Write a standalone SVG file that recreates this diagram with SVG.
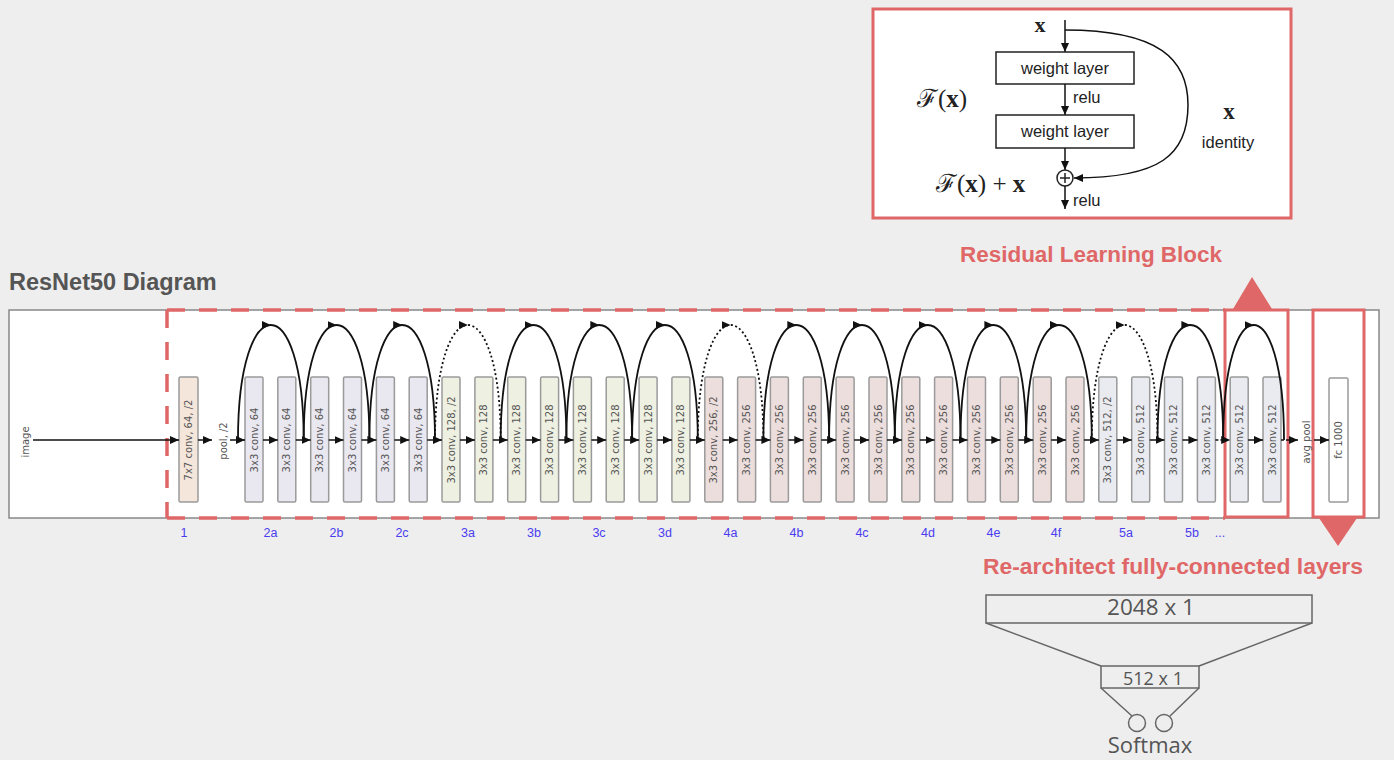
<svg xmlns="http://www.w3.org/2000/svg" width="1394" height="760" viewBox="0 0 1394 760">
<defs>
<marker id="ah" markerUnits="userSpaceOnUse" markerWidth="10" markerHeight="8" refX="9" refY="4" orient="auto"><path d="M0,0 L9,4 L0,8 z" fill="#111"/></marker>
<marker id="ah2" markerUnits="userSpaceOnUse" markerWidth="10" markerHeight="8" refX="9" refY="4" orient="auto"><path d="M0,0 L9,4 L0,8 z" fill="#111"/></marker>
<style>
.bx{stroke:#9a9a9a;stroke-width:1.5}
.c64{fill:#e9e7ef}.c128{fill:#eef0e1}.c256{fill:#ecdedc}.c512{fill:#eaebf0}
.lt{font-family:"DejaVu Sans",sans-serif;font-size:10px;fill:#555;text-anchor:middle;dominant-baseline:central}
.ar{stroke:#111;stroke-width:1.5;fill:none;marker-end:url(#ah)}
.dsh{stroke-dasharray:3 2}
.arc{stroke:#111;stroke-width:1.8;fill:none;marker-mid:url(#ah)}
.dot{stroke-dasharray:2 2.5}
.blk{font-family:"Liberation Sans",Arial,sans-serif;font-size:12.5px;fill:#4a3cf0;text-anchor:middle}
.red{fill:#e06767}
.rs{fill:none;stroke:#e06767;stroke-width:3}
.wl{font-family:"Liberation Sans",Arial,sans-serif;font-size:16.5px;fill:#222}
.mx{font-family:"Liberation Serif","DejaVu Serif",serif;fill:#222}
.fc{font-family:"Open Sans","Liberation Sans",sans-serif;fill:#555}
.bl{stroke:#111;stroke-width:1.5;fill:none}
</style>
</defs>
<rect width="1394" height="760" fill="#eeeeee"/>

<text x="9" y="290" font-family="Liberation Sans,Arial,sans-serif" font-weight="bold" font-size="23.5" fill="#555">ResNet50 Diagram</text>
<text x="960" y="262" font-family="Liberation Sans,Arial,sans-serif" font-weight="bold" font-size="22" class="red" textLength="262" lengthAdjust="spacingAndGlyphs">Residual Learning Block</text>
<text x="983" y="574" font-family="Liberation Sans,Arial,sans-serif" font-weight="bold" font-size="22" class="red" textLength="380" lengthAdjust="spacingAndGlyphs">Re-architect fully-connected layers</text>

<g id="main-frame">
<rect x="9" y="310" width="1370" height="208" fill="#fff" stroke="#888" stroke-width="1.5"/>
</g>

<g id="highlight">
<path d="M167,310 H1225 M167,518 H1225 M167,310 V518" fill="none" stroke="#e06767" stroke-width="3.5" stroke-dasharray="18 14"/>
<rect x="1225" y="310" width="63" height="207" class="rs"/>
<rect x="1313" y="310" width="51" height="207" class="rs"/>
<path d="M1233,309 L1252,277 L1272,309 z" class="red"/>
<path d="M1319,518 L1357,518 L1338,546 z" class="red"/>
</g>

<g id="labels-inline">
<text class="lt" transform="translate(25,442) rotate(-90)">image</text>
<text class="lt" transform="translate(223,441) rotate(-90)">pool, /2</text>
<text class="lt" transform="translate(1306,442) rotate(-90)">avg pool</text>
</g>

<g id="conv1"><rect x="179" y="377" width="19" height="125" rx="1.5" class="bx" fill="#f4e6da"/><text class="lt" transform="translate(188.5,440) rotate(-90)">7x7 conv, 64, /2</text></g>
<g id="fc1000"><rect x="1329" y="378" width="19" height="124" rx="1.5" class="bx" fill="#fff"/><text class="lt" transform="translate(1338.5,440) rotate(-90)">fc 1000</text></g>

<g id="b0"><rect x="245.0" y="377" width="18" height="125" rx="1.5" class="bx c64"/><text class="lt" transform="translate(254.0,440) rotate(-90)">3x3 conv, 64</text></g>
<g id="b1"><rect x="277.8" y="377" width="18" height="125" rx="1.5" class="bx c64"/><text class="lt" transform="translate(286.8,440) rotate(-90)">3x3 conv, 64</text></g>
<g id="b2"><rect x="310.7" y="377" width="18" height="125" rx="1.5" class="bx c64"/><text class="lt" transform="translate(319.7,440) rotate(-90)">3x3 conv, 64</text></g>
<g id="b3"><rect x="343.5" y="377" width="18" height="125" rx="1.5" class="bx c64"/><text class="lt" transform="translate(352.5,440) rotate(-90)">3x3 conv, 64</text></g>
<g id="b4"><rect x="376.4" y="377" width="18" height="125" rx="1.5" class="bx c64"/><text class="lt" transform="translate(385.4,440) rotate(-90)">3x3 conv, 64</text></g>
<g id="b5"><rect x="409.2" y="377" width="18" height="125" rx="1.5" class="bx c64"/><text class="lt" transform="translate(418.2,440) rotate(-90)">3x3 conv, 64</text></g>
<g id="b6"><rect x="442.0" y="377" width="18" height="125" rx="1.5" class="bx c128"/><text class="lt" transform="translate(451.0,440) rotate(-90)">3x3 conv, 128, /2</text></g>
<g id="b7"><rect x="474.9" y="377" width="18" height="125" rx="1.5" class="bx c128"/><text class="lt" transform="translate(483.9,440) rotate(-90)">3x3 conv, 128</text></g>
<g id="b8"><rect x="507.7" y="377" width="18" height="125" rx="1.5" class="bx c128"/><text class="lt" transform="translate(516.7,440) rotate(-90)">3x3 conv, 128</text></g>
<g id="b9"><rect x="540.6" y="377" width="18" height="125" rx="1.5" class="bx c128"/><text class="lt" transform="translate(549.6,440) rotate(-90)">3x3 conv, 128</text></g>
<g id="b10"><rect x="573.4" y="377" width="18" height="125" rx="1.5" class="bx c128"/><text class="lt" transform="translate(582.4,440) rotate(-90)">3x3 conv, 128</text></g>
<g id="b11"><rect x="606.2" y="377" width="18" height="125" rx="1.5" class="bx c128"/><text class="lt" transform="translate(615.2,440) rotate(-90)">3x3 conv, 128</text></g>
<g id="b12"><rect x="639.1" y="377" width="18" height="125" rx="1.5" class="bx c128"/><text class="lt" transform="translate(648.1,440) rotate(-90)">3x3 conv, 128</text></g>
<g id="b13"><rect x="671.9" y="377" width="18" height="125" rx="1.5" class="bx c128"/><text class="lt" transform="translate(680.9,440) rotate(-90)">3x3 conv, 128</text></g>
<g id="b14"><rect x="704.8" y="377" width="18" height="125" rx="1.5" class="bx c256"/><text class="lt" transform="translate(713.8,440) rotate(-90)">3x3 conv, 256, /2</text></g>
<g id="b15"><rect x="737.6" y="377" width="18" height="125" rx="1.5" class="bx c256"/><text class="lt" transform="translate(746.6,440) rotate(-90)">3x3 conv, 256</text></g>
<g id="b16"><rect x="770.4" y="377" width="18" height="125" rx="1.5" class="bx c256"/><text class="lt" transform="translate(779.4,440) rotate(-90)">3x3 conv, 256</text></g>
<g id="b17"><rect x="803.3" y="377" width="18" height="125" rx="1.5" class="bx c256"/><text class="lt" transform="translate(812.3,440) rotate(-90)">3x3 conv, 256</text></g>
<g id="b18"><rect x="836.1" y="377" width="18" height="125" rx="1.5" class="bx c256"/><text class="lt" transform="translate(845.1,440) rotate(-90)">3x3 conv, 256</text></g>
<g id="b19"><rect x="869.0" y="377" width="18" height="125" rx="1.5" class="bx c256"/><text class="lt" transform="translate(878.0,440) rotate(-90)">3x3 conv, 256</text></g>
<g id="b20"><rect x="901.8" y="377" width="18" height="125" rx="1.5" class="bx c256"/><text class="lt" transform="translate(910.8,440) rotate(-90)">3x3 conv, 256</text></g>
<g id="b21"><rect x="934.6" y="377" width="18" height="125" rx="1.5" class="bx c256"/><text class="lt" transform="translate(943.6,440) rotate(-90)">3x3 conv, 256</text></g>
<g id="b22"><rect x="967.5" y="377" width="18" height="125" rx="1.5" class="bx c256"/><text class="lt" transform="translate(976.5,440) rotate(-90)">3x3 conv, 256</text></g>
<g id="b23"><rect x="1000.3" y="377" width="18" height="125" rx="1.5" class="bx c256"/><text class="lt" transform="translate(1009.3,440) rotate(-90)">3x3 conv, 256</text></g>
<g id="b24"><rect x="1033.2" y="377" width="18" height="125" rx="1.5" class="bx c256"/><text class="lt" transform="translate(1042.2,440) rotate(-90)">3x3 conv, 256</text></g>
<g id="b25"><rect x="1066.0" y="377" width="18" height="125" rx="1.5" class="bx c256"/><text class="lt" transform="translate(1075.0,440) rotate(-90)">3x3 conv, 256</text></g>
<g id="b26"><rect x="1098.8" y="377" width="18" height="125" rx="1.5" class="bx c512"/><text class="lt" transform="translate(1107.8,440) rotate(-90)">3x3 conv, 512, /2</text></g>
<g id="b27"><rect x="1131.7" y="377" width="18" height="125" rx="1.5" class="bx c512"/><text class="lt" transform="translate(1140.7,440) rotate(-90)">3x3 conv, 512</text></g>
<g id="b28"><rect x="1164.5" y="377" width="18" height="125" rx="1.5" class="bx c512"/><text class="lt" transform="translate(1173.5,440) rotate(-90)">3x3 conv, 512</text></g>
<g id="b29"><rect x="1197.4" y="377" width="18" height="125" rx="1.5" class="bx c512"/><text class="lt" transform="translate(1206.4,440) rotate(-90)">3x3 conv, 512</text></g>
<g id="b30"><rect x="1230.2" y="377" width="18" height="125" rx="1.5" class="bx c512"/><text class="lt" transform="translate(1239.2,440) rotate(-90)">3x3 conv, 512</text></g>
<g id="b31"><rect x="1263.0" y="377" width="18" height="125" rx="1.5" class="bx c512"/><text class="lt" transform="translate(1272.0,440) rotate(-90)">3x3 conv, 512</text></g>

<g id="connectors">
<line x1="33" y1="440" x2="179" y2="440" class="ar"/>
<line x1="198" y1="440" x2="212" y2="440" class="ar"/>
<line x1="230" y1="440" x2="245" y2="440" class="ar"/>
<line x1="263" y1="440" x2="277.8" y2="440" class="ar"/>
<line x1="295.8" y1="440" x2="310.7" y2="440" class="ar"/>
<line x1="328.7" y1="440" x2="343.5" y2="440" class="ar"/>
<line x1="361.5" y1="440" x2="376.4" y2="440" class="ar"/>
<line x1="394.4" y1="440" x2="409.2" y2="440" class="ar"/>
<line x1="427.2" y1="440" x2="442" y2="440" class="ar"/>
<line x1="460" y1="440" x2="474.9" y2="440" class="ar"/>
<line x1="492.9" y1="440" x2="507.7" y2="440" class="ar"/>
<line x1="525.7" y1="440" x2="540.6" y2="440" class="ar"/>
<line x1="558.6" y1="440" x2="573.4" y2="440" class="ar"/>
<line x1="591.4" y1="440" x2="606.2" y2="440" class="ar"/>
<line x1="624.2" y1="440" x2="639.1" y2="440" class="ar"/>
<line x1="657.1" y1="440" x2="671.9" y2="440" class="ar"/>
<line x1="689.9" y1="440" x2="704.8" y2="440" class="ar"/>
<line x1="722.8" y1="440" x2="737.6" y2="440" class="ar"/>
<line x1="755.6" y1="440" x2="770.4" y2="440" class="ar"/>
<line x1="788.4" y1="440" x2="803.3" y2="440" class="ar"/>
<line x1="821.3" y1="440" x2="836.1" y2="440" class="ar"/>
<line x1="854.1" y1="440" x2="869" y2="440" class="ar"/>
<line x1="887" y1="440" x2="901.8" y2="440" class="ar"/>
<line x1="919.8" y1="440" x2="934.6" y2="440" class="ar"/>
<line x1="952.6" y1="440" x2="967.5" y2="440" class="ar"/>
<line x1="985.5" y1="440" x2="1000.3" y2="440" class="ar"/>
<line x1="1018.3" y1="440" x2="1033.2" y2="440" class="ar"/>
<line x1="1051.2" y1="440" x2="1066" y2="440" class="ar"/>
<line x1="1084" y1="440" x2="1098.8" y2="440" class="ar"/>
<line x1="1116.8" y1="440" x2="1131.7" y2="440" class="ar"/>
<line x1="1149.7" y1="440" x2="1164.5" y2="440" class="ar"/>
<line x1="1182.5" y1="440" x2="1197.4" y2="440" class="ar"/>
<line x1="1215.4" y1="440" x2="1230.2" y2="440" class="ar dsh"/>
<line x1="1248.2" y1="440" x2="1263" y2="440" class="ar"/>
<line x1="1281" y1="440" x2="1298" y2="440" class="ar dsh"/>
<line x1="1314" y1="440" x2="1329" y2="440" class="ar"/>

<path class="arc" d="M238,440 C238,363.5 254.4,325 270.9,325 C287.3,325 303.7,363.5 303.7,440"/>
<path class="arc" d="M303.7,440 C303.7,363.5 320.1,325 336.6,325 C353,325 369.4,363.5 369.4,440"/>
<path class="arc" d="M369.4,440 C369.4,363.5 385.8,325 402.2,325 C418.6,325 435,363.5 435,440"/>
<path class="arc dot" d="M435,440 C435,363.5 451.4,325 467.9,325 C484.3,325 500.7,363.5 500.7,440"/>
<path class="arc" d="M500.7,440 C500.7,363.5 517.1,325 533.6,325 C550,325 566.4,363.5 566.4,440"/>
<path class="arc" d="M566.4,440 C566.4,363.5 582.8,325 599.3,325 C615.7,325 632.1,363.5 632.1,440"/>
<path class="arc" d="M632.1,440 C632.1,363.5 648.5,325 665,325 C681.4,325 697.8,363.5 697.8,440"/>
<path class="arc dot" d="M697.8,440 C697.8,363.5 714.2,325 730.6,325 C747,325 763.4,363.5 763.4,440"/>
<path class="arc" d="M763.4,440 C763.4,363.5 779.8,325 796.3,325 C812.7,325 829.1,363.5 829.1,440"/>
<path class="arc" d="M829.1,440 C829.1,363.5 845.5,325 862,325 C878.4,325 894.8,363.5 894.8,440"/>
<path class="arc" d="M894.8,440 C894.8,363.5 911.2,325 927.7,325 C944.1,325 960.5,363.5 960.5,440"/>
<path class="arc" d="M960.5,440 C960.5,363.5 976.9,325 993.4,325 C1009.8,325 1026.2,363.5 1026.2,440"/>
<path class="arc" d="M1026.2,440 C1026.2,363.5 1042.6,325 1059,325 C1075.4,325 1091.8,363.5 1091.8,440"/>
<path class="arc dot" d="M1091.8,440 C1091.8,363.5 1108.2,325 1124.7,325 C1141.1,325 1157.5,363.5 1157.5,440"/>
<path class="arc" d="M1157.5,440 C1157.5,363.5 1173.9,325 1190.4,325 C1206.8,325 1223.2,363.5 1223.2,440"/>
<path class="arc" d="M1223.2,440 C1223.2,363.5 1238.4,325 1253.6,325 C1268.8,325 1284,363.5 1284,440"/>
</g>

<g id="block-labels">
<text class="blk" x="184" y="537">1</text>
<text class="blk" x="270.5" y="537">2a</text>
<text class="blk" x="336.5" y="537">2b</text>
<text class="blk" x="402" y="537">2c</text>
<text class="blk" x="468" y="537">3a</text>
<text class="blk" x="534" y="537">3b</text>
<text class="blk" x="599" y="537">3c</text>
<text class="blk" x="665" y="537">3d</text>
<text class="blk" x="730.5" y="537">4a</text>
<text class="blk" x="796.5" y="537">4b</text>
<text class="blk" x="862" y="537">4c</text>
<text class="blk" x="928" y="537">4d</text>
<text class="blk" x="993.5" y="537">4e</text>
<text class="blk" x="1056" y="537">4f</text>
<text class="blk" x="1126" y="537">5a</text>
<text class="blk" x="1192" y="537">5b</text>
<text class="blk" x="1220" y="537">...</text>
</g>

<g id="residual-block">
<rect x="873" y="9" width="418" height="209" fill="#fff" stroke="#e06767" stroke-width="3"/>
<text class="mx" x="1040" y="32" font-size="22" font-weight="bold" text-anchor="middle">x</text>
<line x1="1065" y1="20" x2="1065" y2="52" class="bl" marker-end="url(#ah2)"/>
<rect x="996" y="52" width="138" height="32" fill="#fff" stroke="#222" stroke-width="1.5"/>
<text class="wl" x="1065" y="74" text-anchor="middle">weight layer</text>
<line x1="1065" y1="84" x2="1065" y2="115" class="bl" marker-end="url(#ah2)"/>
<text class="wl" x="1073" y="103" font-size="17.5">relu</text>
<rect x="996" y="115" width="138" height="33" fill="#fff" stroke="#222" stroke-width="1.5"/>
<text class="wl" x="1065" y="137" text-anchor="middle">weight layer</text>
<line x1="1065" y1="148" x2="1065" y2="170" class="bl" marker-end="url(#ah2)"/>
<circle cx="1065" cy="178" r="8" fill="#fff" stroke="#222" stroke-width="1.5"/>
<path d="M1060,178 H1070 M1065,173 V183" stroke="#222" stroke-width="1.5"/>
<line x1="1065" y1="186" x2="1065" y2="209" class="bl" marker-end="url(#ah2)"/>
<text class="wl" x="1073" y="206" font-size="17.5">relu</text>
<path d="M1065,30 C1160,30 1188,60 1188,105 C1188,155 1160,178 1074,178" class="bl" marker-end="url(#ah2)"/>
<text class="mx" x="917" y="107" font-size="25">ℱ(<tspan font-weight="bold">x</tspan>)</text>
<text class="mx" x="936" y="192" font-size="25">ℱ(<tspan font-weight="bold">x</tspan>) + <tspan font-weight="bold">x</tspan></text>
<text class="mx" x="1229" y="119" font-size="23" font-weight="bold" text-anchor="middle">x</text>
<text class="wl" x="1228" y="148" font-size="20" text-anchor="middle">identity</text>
</g>

<g id="fc-layers">
<rect x="986" y="595" width="326" height="28" fill="none" stroke="#666" stroke-width="1.5"/>
<text class="fc" x="1151" y="615" font-size="22.5" text-anchor="middle">2048 x 1</text>
<path d="M986,623 L1101,666 M1312,623 L1199,666" stroke="#666" stroke-width="1.5" fill="none"/>
<rect x="1101" y="666" width="98" height="22" fill="none" stroke="#666" stroke-width="1.5"/>
<text class="fc" x="1153" y="685" font-size="18" text-anchor="middle">512 x 1</text>
<path d="M1101,688 L1132,716 M1199,688 L1170,716" stroke="#666" stroke-width="1.5" fill="none"/>
<circle cx="1137" cy="723" r="8.5" fill="none" stroke="#666" stroke-width="1.5"/>
<circle cx="1164" cy="723" r="8.5" fill="none" stroke="#666" stroke-width="1.5"/>
<text class="fc" x="1150" y="753" font-size="22" text-anchor="middle">Softmax</text>
</g>
</svg>
